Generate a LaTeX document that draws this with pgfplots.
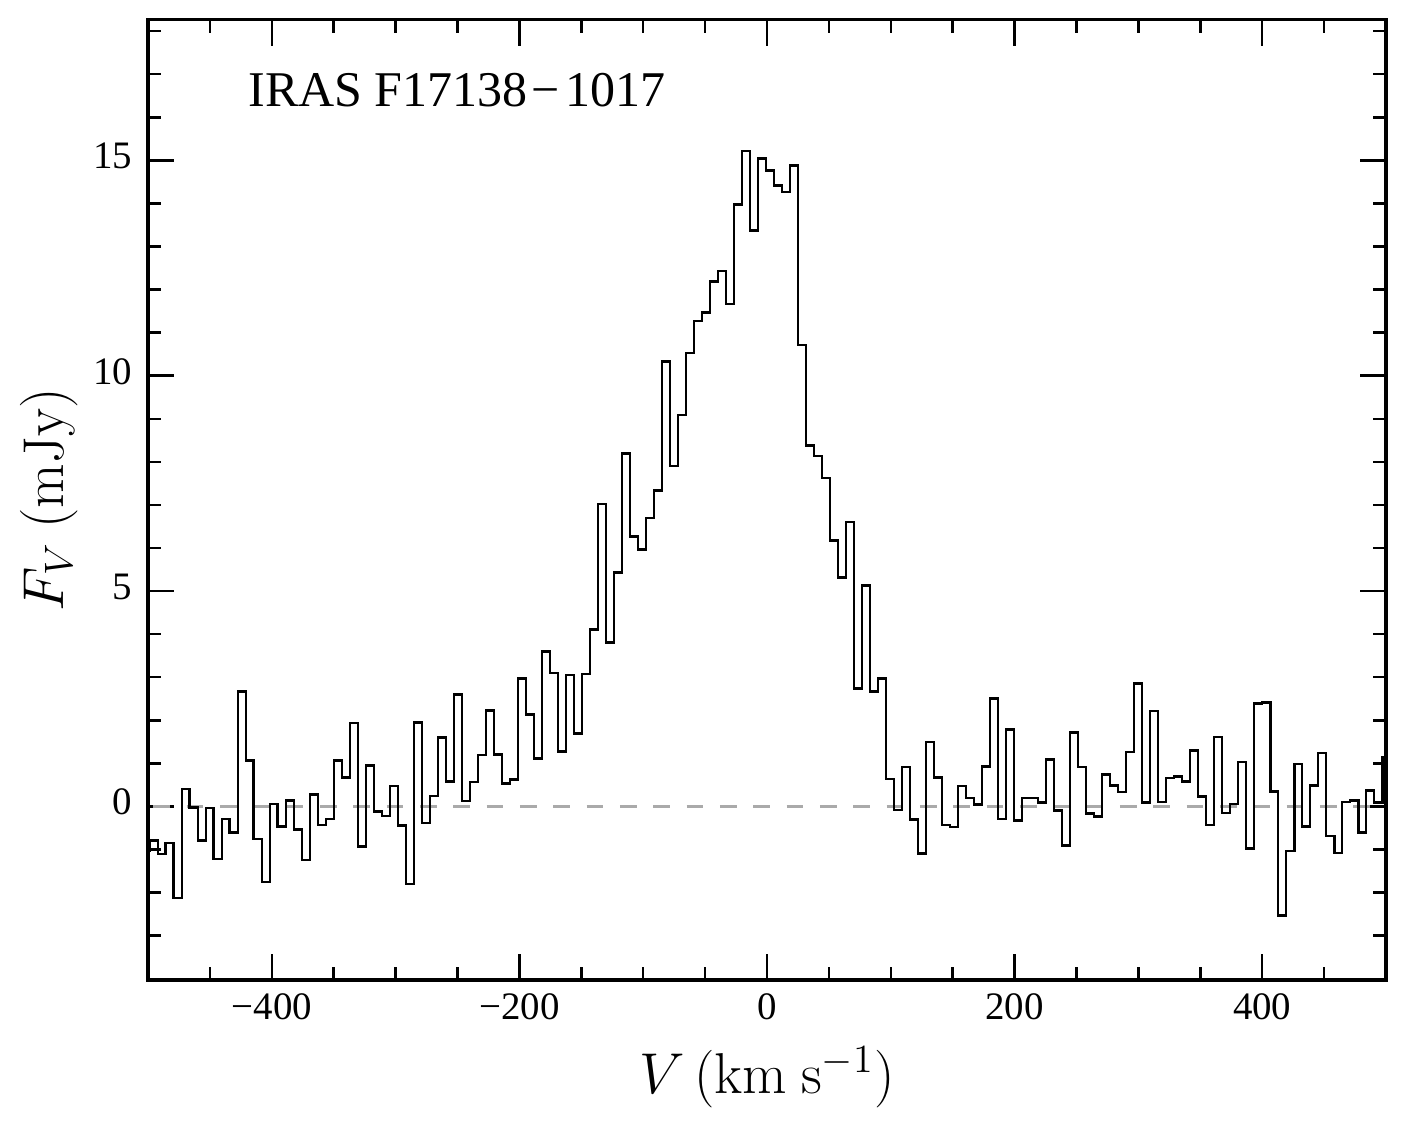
\documentclass[border=0pt]{standalone}
\usepackage[no-math]{fontspec}
\setmainfont{Liberation Serif}
\usepackage{pgfplots}
\pgfplotsset{compat=1.18}
\definecolor{refgray}{RGB}{170,170,170}
\pgfplotstableread{
x y
-505.0 -1.02
-498.6 -0.79
-492.1 -1.10
-485.7 -0.85
-479.2 -2.13
-472.7 0.41
-466.3 -0.02
-459.8 -0.79
-453.3 -0.04
-446.9 -1.22
-440.4 -0.29
-434.0 -0.61
-427.5 2.67
-421.0 1.07
-414.6 -0.76
-408.1 -1.75
-401.6 0.06
-395.2 -0.47
-388.7 0.14
-382.2 -0.54
-375.8 -1.24
-369.3 0.28
-362.8 -0.43
-356.4 -0.29
-349.9 1.07
-343.4 0.67
-337.0 1.94
-330.5 -0.93
-324.1 0.95
-317.6 -0.12
-311.1 -0.22
-304.7 0.47
-298.2 -0.44
-291.7 -1.80
-285.3 1.95
-278.8 -0.39
-272.3 0.24
-265.9 1.60
-259.4 0.58
-252.9 2.60
-246.5 0.12
-240.0 0.57
-233.6 1.19
-227.1 2.23
-220.6 1.21
-214.2 0.53
-207.7 0.63
-201.2 2.97
-194.8 2.13
-188.3 1.11
-181.8 3.60
-175.4 3.10
-168.9 1.28
-162.4 3.05
-156.0 1.69
-149.5 3.08
-143.1 4.11
-136.6 7.02
-130.1 3.81
-123.7 5.43
-117.2 8.19
-110.7 6.27
-104.3 5.97
-97.8 6.70
-91.3 7.33
-84.9 10.33
-78.4 7.90
-71.9 9.09
-65.5 10.53
-59.0 11.27
-52.5 11.47
-46.1 12.19
-39.6 12.43
-33.2 11.67
-26.7 13.97
-20.2 15.22
-13.8 13.37
-7.3 15.04
-0.8 14.76
5.7 14.42
12.1 14.26
18.6 14.88
25.1 10.71
31.5 8.38
38.0 8.14
44.4 7.62
50.9 6.17
57.4 5.31
63.8 6.60
70.3 2.74
76.8 5.13
83.2 2.67
89.7 2.97
96.2 0.64
102.6 -0.08
109.1 0.91
115.6 -0.30
122.0 -1.09
128.5 1.50
135.0 0.67
141.4 -0.43
147.9 -0.48
154.3 0.47
160.8 0.19
167.3 0.05
173.7 0.93
180.2 2.50
186.7 -0.29
193.1 1.79
199.6 -0.33
206.1 0.19
212.5 0.19
219.0 0.09
225.5 1.09
231.9 -0.09
238.4 -0.91
244.8 1.72
251.3 0.91
257.8 -0.17
264.2 -0.23
270.7 0.74
277.2 0.49
283.6 0.33
290.1 1.26
296.6 2.85
303.0 0.09
309.5 2.21
316.0 0.10
322.4 0.66
328.9 0.70
335.4 0.58
341.8 1.30
348.3 0.23
354.7 -0.43
361.2 1.61
367.7 -0.15
374.1 0.06
380.6 1.03
387.1 -0.98
393.5 2.39
400.0 2.41
406.5 0.35
412.9 -2.53
419.4 -1.04
425.9 0.98
432.3 -0.47
438.8 0.49
445.2 1.24
451.7 -0.69
458.2 -1.08
464.6 0.10
471.1 0.14
477.6 -0.61
484.0 0.37
490.5 0.09
497.0 1.13
503.4 1.13
}\spectrum
\begin{document}
\begin{tikzpicture}
\useasboundingbox (-53.28pt,-53.64pt) rectangle (452.88pt,352.80pt);
\begin{axis}[
  at={(0,0)}, anchor=south west,
  scale only axis, width=445.68pt, height=345.78pt,
  xmin=-500, xmax=500, ymin=-4.03, ymax=18.27,
  axis line style={line width=1.1pt},
  tick align=inside, tick pos=both,
  xtick={-400,-200,0,200,400},
  xticklabels={−400,−200,0,200,400},
  minor xtick={-450,-350,-300,-250,-150,-100,-50,50,100,150,250,300,350,450},
  ytick={0,5,10,15}, yticklabels={0,5,10,15},
  minor ytick={-3,-2,-1,1,2,3,4,6,7,8,9,11,12,13,14,16,17,18},
  major tick length=9.5pt, minor tick length=4.7pt,
  every tick/.style={black, line width=0.9pt},
  tick label style={font=\fontsize{14}{16}\selectfont, inner sep=0pt},
  xticklabel style={yshift=-4.7pt},
  yticklabel style={xshift=-5.4pt, yshift=1.5pt},
  xlabel={$V\,(\mathrm{km\ s^{-1}})$},
  ylabel={$F_V\ (\mathrm{mJy})$},
  label style={font=\fontsize{20}{24}\selectfont},
  xlabel style={at={(axis description cs:0.5,-0.1012)}, anchor=center},
  ylabel style={at={(axis description cs:-0.07965,0.5)}, anchor=center},
]
\addplot[refgray, line width=1.3pt, dash pattern=on 6pt off 6pt, dash phase=10.1pt] coordinates {(-500,0) (500,0)};
\addplot[black, line width=0.9pt, const plot, mark=none] table[x=x, y=y] {\spectrum};
\node[anchor=base west, inner sep=0pt, font=\fontsize{18}{22}\selectfont] at (axis description cs:0.0808,0.9097) {IRAS F17138\hspace{0.08em}−\hspace{0.12em}1017};
\end{axis}
\end{tikzpicture}
\end{document}
